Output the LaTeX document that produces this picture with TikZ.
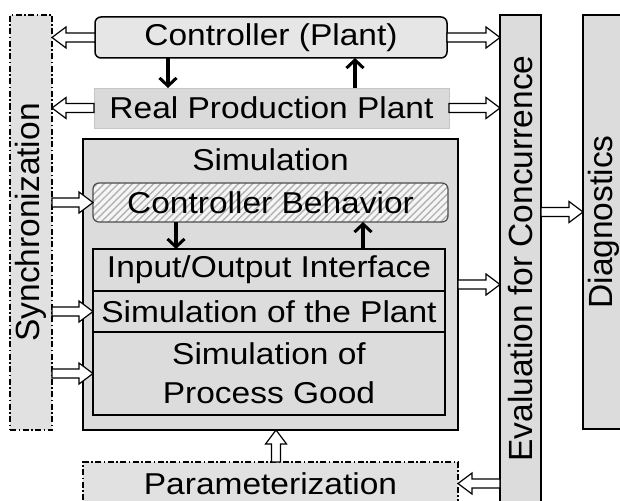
\documentclass[tikz,border=0pt]{standalone}
\usepackage{fontspec}
\setmainfont{Liberation Sans}
\usetikzlibrary{calc,arrows.meta,patterns.meta}
\definecolor{bgc}{RGB}{220,220,220}
\definecolor{ctrlc}{RGB}{230,230,230}
\definecolor{syncc}{RGB}{225,225,225}
\definecolor{rppc}{RGB}{218,218,218}
\newcommand\hlab[1]{\scalebox{1}[0.9]{#1}}
\begin{document}
\begin{tikzpicture}[x=1pt,y=-1pt,
  every node/.style={font=\fontsize{33.5}{39}\selectfont, inner sep=0pt, outer sep=0pt},
  box/.style={draw=black, line width=1.5pt, fill=bgc, rectangle},
  dashdot/.style={draw=black, line width=1.1pt, dash pattern=on 6pt off 2.5pt on 1.5pt off 2.5pt, fill=syncc},
  fat/.style={draw=black, line width=1.2pt, fill=white, line join=miter,
    to path={($(\tikztostart)!4.5pt!90:(\tikztotarget)$)
      -- ($(\tikztotarget)!14pt!(\tikztostart)!4.5pt!-90:(\tikztostart)$)
      -- ($(\tikztotarget)!14pt!(\tikztostart)!10.5pt!-90:(\tikztostart)$)
      -- (\tikztotarget)
      -- ($(\tikztotarget)!14pt!(\tikztostart)!10.5pt!90:(\tikztostart)$)
      -- ($(\tikztotarget)!14pt!(\tikztostart)!4.5pt!90:(\tikztostart)$)
      -- ($(\tikztostart)!4.5pt!-90:(\tikztotarget)$) -- cycle}},
  blk/.style={draw=black, line width=3.2pt, -{Straight Barb[length=8pt,width=17pt,line width=3pt]}}]
\clip (0,0) rectangle (620,500);
% boxes
\node[dashdot, minimum width=42pt, minimum height=415pt] (sync) at (31,222.5) {};
\node[rotate=90] (syncl) at (sync.center) {Synchronization};
\node[draw=black, line width=1.5pt, fill=ctrlc, rounded corners=6pt, minimum width=352pt, minimum height=41pt] (ctrl) at (271,37.5) {\hlab{Controller (Plant)}};
\node[draw=gray!45, line width=0.8pt, fill=rppc, minimum width=355pt, minimum height=40pt] (rpp) at (271.5,108) {\hlab{Real Production Plant}};
\node[box, minimum width=375pt, minimum height=291pt] (sim) at (270.5,284.5) {};
\node (simt) at (270.5,160) {\hlab{Simulation}};
\node[draw=gray!60!black, line width=1.2pt, rounded corners=6pt, preaction={fill=gray!8},
  pattern={Lines[angle=45,distance=5pt,line width=1.4pt]}, pattern color=gray!60,
  minimum width=355pt, minimum height=39pt] (cb) at (270.5,202.5) {};
\node (cbl) at (cb.center) {\hlab{Controller Behavior}};
\node[box, minimum width=352pt, minimum height=42pt] (io) at (269,270) {\hlab{Input/Output Interface}};
\node[box, minimum width=352pt, minimum height=41pt] (sotp) at (269,311.5) {\hlab{Simulation of the Plant}};
\node[box, minimum width=352pt, minimum height=83pt, align=center] (spg) at (269,373.5) {\hlab{Simulation of}\\[0pt]\hlab{Process Good}};
\node[box, minimum width=41pt, minimum height=487pt] (eval) at (520.5,258.5) {};
\node[rotate=90] (evall) at (eval.center) {Evaluation for Concurrence};
\node[box, minimum width=42pt, minimum height=414pt] (diag) at (604,222) {};
\node[rotate=90] (diagl) at (diag.center) {Diagnostics};
\node[dashdot, minimum width=375pt, minimum height=43pt] (param) at (270.5,483.5) {\hlab{Parameterization}};
% fat arrows
\draw[fat] (ctrl.west) to (sync.east |- ctrl.west);
\draw[fat] (rpp.west) to (sync.east |- rpp.west);
\draw[fat] (sync.east |- cb.west) to (cb.west);
\draw[fat] (sync.east |- sotp.west) to (sotp.west);
\draw[fat] (sync.east |- spg.west) to (spg.west);
\draw[fat] (ctrl.east) to (eval.west |- ctrl.east);
\draw[fat] (rpp.east) to (eval.west |- rpp.east);
\draw[fat] (sim.east) to (eval.west |- sim.east);
\coordinate (e2d) at (541,212);
\draw[fat] (e2d) to (diag.west |- e2d);
\draw[fat] (eval.west |- param.east) to (param.east);
\coordinate (p2s) at (276,462);
\draw[fat] (p2s) to (sim.south -| p2s);
% black arrows
\coordinate (c1) at (168,58);
\draw[blk] (c1) -- (rpp.north -| c1);
\coordinate (c2) at (355,88);
\draw[blk] (c2) -- (ctrl.south -| c2);
\coordinate (c3) at (176,222);
\draw[blk] (c3) -- (io.north -| c3);
\coordinate (c4) at (363,249);
\draw[blk] (c4) -- (cb.south -| c4);
\end{tikzpicture}
\end{document}
